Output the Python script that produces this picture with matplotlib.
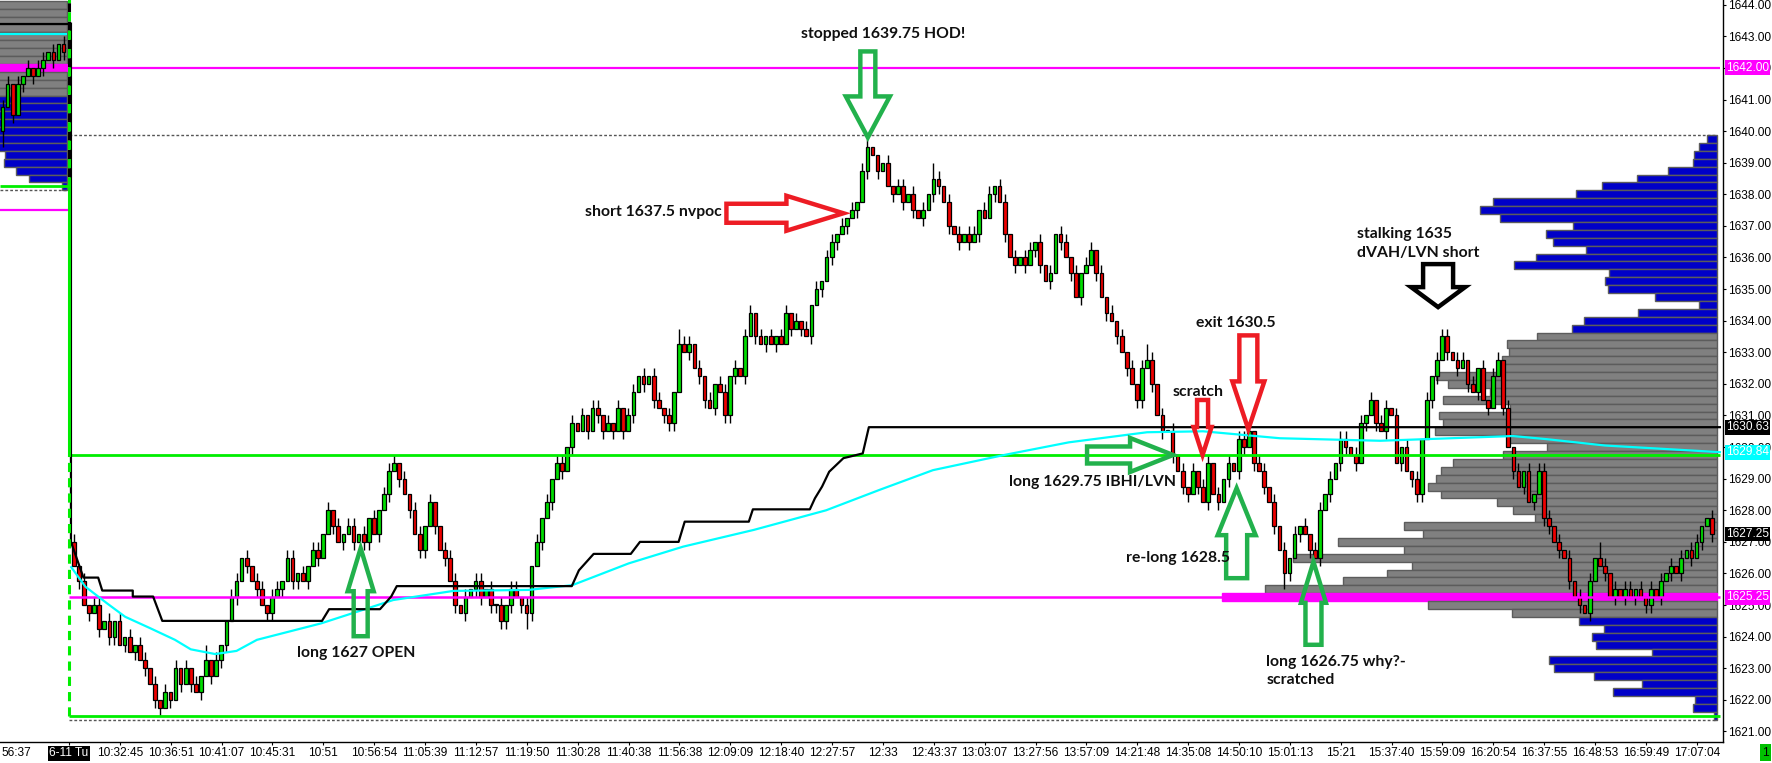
import numpy as np
import matplotlib.pyplot as plt
from matplotlib.patches import Polygon
from matplotlib.transforms import IdentityTransform, blended_transform_factory

plt.rcParams['font.family'] = ['Liberation Sans', 'DejaVu Sans']

UP_C = '#00dd00'
DN_C = '#ee0000'
MAGENTA = '#ff00ff'
CYAN = '#00ffff'
LIME = '#00ee00'
BLUE = '#0000c8'
GRAY = '#808080'
EDGE = '#5c5c5c'
ARROW_G = '#22b14c'
ARROW_R = '#ed1c24'

PX = 5.087          # pixels per bar
BARS_PER_LABEL = 10
LABEL_SIZE = 8.6

# ---------------- data ----------------
time_labels = ['6-11 Tu', '10:32:45', '10:36:51', '10:41:07', '10:45:31', '10:51',
               '10:56:54', '11:05:39', '11:12:57', '11:19:50', '11:30:28', '11:40:38',
               '11:56:38', '12:09:09', '12:18:40', '12:27:57', '12:33', '12:43:37',
               '13:03:07', '13:27:56', '13:57:09', '14:21:48', '14:35:08', '14:50:10',
               '15:01:13', '15:21', '15:37:40', '15:59:09', '16:20:54', '16:37:55',
               '16:48:53', '16:59:49', '17:07:04']
price_ticks = list(range(1621, 1645))

# previous session tail (left edge of chart)
prev_open = 1640.0
prev_close = [1640.75, 1641.5, 1640.5, 1641.5, 1641.75, 1642.0, 1641.75,
              1642.0, 1642.25, 1642.5, 1642.25, 1642.75, 1642.5]
prev_up = '1101010110101'
prev_dn = '2010101010101'

# 6-11 session, one close per bar
sess_open = 1627.0
sess_close = [
    1626.25, 1625.75, 1625.0, 1624.75, 1625.0, 1624.25, 1624.5, 1624.0, 1624.5, 1623.75,
    1624.0, 1623.5, 1623.75, 1623.25, 1623.0, 1622.5, 1622.0, 1621.75, 1622.25, 1622.0,
    1623.0, 1622.5, 1623.0, 1622.5, 1622.25, 1622.75, 1623.25, 1622.75, 1623.25, 1623.75,
    1624.5, 1625.25, 1625.75, 1626.5, 1626.25, 1625.75, 1625.5, 1625.0, 1624.75, 1625.25,
    1625.5, 1625.75, 1626.5, 1625.75, 1626.0, 1625.75, 1626.25, 1626.75, 1626.5, 1627.25,
    1628.0, 1627.5, 1627.0, 1627.25, 1627.5, 1627.0, 1627.25, 1627.0, 1627.75, 1627.25,
    1628.0, 1628.5, 1629.25, 1629.5, 1629.0, 1628.5, 1628.0, 1627.25, 1626.75, 1627.5,
    1628.25, 1627.5, 1626.75, 1626.5, 1625.75, 1625.0, 1624.75, 1625.25, 1625.5, 1625.75,
    1625.25, 1625.5, 1625.0, 1625.0, 1624.5, 1625.0, 1625.5, 1625.25, 1625.0, 1624.75,
    1626.25, 1627.0, 1627.75, 1628.25, 1629.0, 1629.5, 1629.25, 1630.0, 1630.75, 1630.5,
    1631.0, 1630.5, 1631.25, 1631.0, 1630.5, 1630.75, 1630.5, 1631.25, 1630.5, 1631.0,
    1631.75, 1632.25, 1632.0, 1632.25, 1631.5, 1631.25, 1631.0, 1630.75, 1631.75, 1633.25,
    1633.0, 1633.25, 1632.5, 1632.25, 1631.5, 1631.25, 1632.0, 1631.75, 1631.0, 1632.25,
    1632.5, 1632.25, 1633.5, 1634.25, 1633.5, 1633.25, 1633.5, 1633.25, 1633.5, 1633.25,
    1634.25, 1633.75, 1634.0, 1633.75, 1633.5, 1634.5, 1635.0, 1635.25, 1636.0, 1636.5,
    1636.75, 1637.0, 1637.25, 1637.5, 1637.75, 1638.75, 1639.5, 1639.25, 1638.75, 1639.0,
    1638.25, 1638.0, 1638.25, 1637.75, 1638.0, 1637.5, 1637.25, 1637.5, 1638.0, 1638.5,
    1638.25, 1637.75, 1637.0, 1636.75, 1636.5, 1636.75, 1636.5, 1636.75, 1637.5, 1637.25,
    1638.0, 1638.25, 1637.75, 1636.75, 1636.0, 1635.75, 1636.0, 1635.75, 1636.25, 1636.5,
    1635.75, 1635.25, 1635.5, 1636.75, 1636.5, 1636.0, 1635.5, 1634.75, 1635.5, 1635.75,
    1636.25, 1635.5, 1634.75, 1634.25, 1634.0, 1633.5, 1633.0, 1632.5, 1632.0, 1631.5,
    1632.5, 1632.75, 1632.0, 1631.0, 1630.5, 1630.5, 1629.75, 1629.25, 1628.75, 1628.5,
    1629.25, 1628.75, 1628.25, 1629.5, 1628.5, 1628.25, 1629.0, 1629.5, 1629.25, 1630.25,
    1630.0, 1630.5, 1629.5, 1629.25, 1628.75, 1628.25, 1627.5, 1626.75, 1626.0, 1626.5,
    1627.25, 1627.5, 1627.25, 1626.75, 1626.5, 1628.0, 1628.5, 1629.0, 1629.5, 1630.25,
    1630.0, 1629.75, 1629.5, 1630.75, 1631.0, 1631.5, 1630.75, 1630.5, 1631.25, 1631.0,
    1629.5, 1630.0, 1629.25, 1629.0, 1628.5, 1630.25, 1631.5, 1632.25, 1632.75, 1633.5,
    1633.0, 1632.75, 1632.5, 1632.75, 1632.0, 1631.75, 1632.5, 1631.5, 1631.25, 1632.25,
    1632.75, 1631.25, 1630.0, 1629.25, 1628.75, 1629.25, 1628.25, 1628.5, 1629.25, 1627.75,
    1627.5, 1627.0, 1626.75, 1626.5, 1625.75, 1625.25, 1625.0, 1624.75, 1625.75, 1626.5,
    1626.25, 1626.0, 1625.25, 1625.5, 1625.25, 1625.5, 1625.25, 1625.5, 1625.25, 1625.0,
    1625.5, 1625.25, 1625.75, 1626.0, 1626.25, 1626.0, 1626.5, 1626.75, 1626.5, 1627.0,
    1627.5, 1627.75, 1627.25,
]
# wick length beyond the body, in ticks
sess_up = ('1010110101' '0101101010' '1010102010' '0110101101' '1011010110'
           '1010110101' '0111010110' '1001110101' '1010101101' '0101011010'
           '1011010101' '1010110102' '1101010110' '1011010101' '1010101011'
           '0101011000' '1011010102' '1010101101' '1011010110' '1010110101'
           '1010101010' '1210101010' '1011010101' '1101101010' '1010110101'
           '1011010110' '1010101011' '1011010101' '1010101011' '1010101010'
           '2101011010' '1010101011001')
sess_dn = ('0101010110' '1010101101' '0101010101' '1010101011' '0101101010'
           '0101010110' '1010101011' '0101010101' '1011111012' '1010101010'
           '0101101010' '1010101110' '0101101011' '1010101010' '0101010101'
           '1010101010' '0101010101' '1010101010' '0101010101' '1010101010'
           '0101010101' '1010101011' '0101010101' '1010101021' '0101010101'
           '1010101010' '0101110110' '1010101010' '0101010101' '1010101010'
           '0101010101' '1010101010101')

# developing POC (black) and VWAP (cyan): bar position, price
vpoc_x = [13.45, 13.45, 15.9, 18.8, 19.6, 25.6, 25.6, 29.6, 31.4, 62.8, 64.2, 74.2, 76.4,
          77.5, 111.9, 113.3, 116.2, 123.5, 125.3, 132.9, 134.1, 146.7, 147.5, 158.7,
          159.7, 161.1, 162.5, 165.3, 167.1, 169.1, 170.3, 337.6]
vpoc_y = [1643.4, 1627.0, 1625.87, 1625.87, 1625.46, 1625.46, 1625.27, 1625.27, 1624.5,
          1624.5, 1624.87, 1624.87, 1625.27, 1625.6, 1625.6, 1626.1, 1626.62, 1626.62,
          1627.0, 1627.0, 1627.64, 1627.64, 1628.03, 1628.03, 1628.38, 1628.75, 1629.22,
          1629.65, 1629.72, 1629.8, 1630.63, 1630.63]
vwap_x = [13.5, 16.3, 20.5, 24.1, 29.0, 33.9, 37.0, 41.8, 46.0, 50.0, 62.6, 69.7, 76.8,
          88.7, 103.4, 112.0, 123.1, 133.8, 147.7, 161.9, 172.3, 182.9, 196.9, 209.6,
          225.0, 236.0, 251.1, 270.8, 296.9, 303.6, 315.0, 337.6]
vwap_y = [1626.2, 1625.58, 1625.06, 1624.63, 1624.27, 1623.9, 1623.6, 1623.45, 1623.55,
          1623.9, 1624.42, 1624.79, 1625.16, 1625.45, 1625.48, 1625.63, 1626.32, 1626.85,
          1627.38, 1628.0, 1628.64, 1629.27, 1629.75, 1630.15, 1630.47, 1630.5, 1630.28,
          1630.2, 1630.35, 1630.25, 1630.05, 1629.84]

# session volume profile, rows of 0.25 from the top price, width in bars
vp_top = 1639.75
vp_width = [1.85, 3.54, 4.52, 4.72, 9.67, 15.7, 22.6, 27.7, 43.9, 46.5, 42.6, 28.3, 33.5,
            32.1, 25.7, 35.6, 39.9, 21.1, 21.9, 21.3, 12.1, 3.4, 15.4, 26.0, 28.4,
            35.3, 41.2, 40.8, 42.3, 42.1, 55.2, 52.8, 44.6, 53.8, 40.6, 54.6, 53.9, 55.3,
            41.2, 33.4, 42.1, 51.9, 54.1, 55.2, 56.8, 54.1, 43.2, 40.0, 35.7, 61.4, 57.7,
            74.5, 61.4, 83.3, 59.8, 64.8, 73.4, 88.7, 97.2, 56.8, 40.2,
            27.0, 22.1, 24.6, 23.8, 12.7, 32.9, 31.9, 24.1, 14.6, 20.3, 4.3, 4.7, 0.5]
vp_vah, vp_val, vp_poc = 1633.5, 1624.75, 1625.25

# previous session profile
prev_vp_top = 1644.0
prev_vp_width = [28, 31, 35, 38, 40, 44, 47, 52, 49, 45, 41, 37,
                 34, 30, 27, 24, 21, 18, 15, 12.1, 12.3, 9.96, 7.35, 0.87]
prev_vah, prev_val, prev_poc = 1644.0, 1641.25, 1642.0

prev_levels = {'vpoc': 1643.4, 'vwap': 1643.08, 'green': 1638.27, 'low': 1638.14, 'mag': 1637.5}
ib_high, sess_low_line = 1629.75, 1621.5
hi_edge, lo_edge = 1639.875, 1621.375
prev_poc_line = 1642.0
last_price = 1627.25

# ---------------- figure ----------------
fig = plt.figure(figsize=(17.72, 7.63), dpi=100)
ax = fig.add_axes([0, 21 / 763, 1723 / 1772, 742 / 763])
x_right = 1723 / PX - 0.5
ax.set_xlim(-0.5, x_right)
ax.set_ylim(1620.667, 1644.149)

session_x = 69 / PX - 0.5
line_end = 1720 / PX - 0.5
vp_right = 1716.7 / PX - 0.5
prev_vp_right = 66.7 / PX - 0.5


def draw_profile(right, top, widths, vah, val, poc):
    prices = top - 0.25 * np.arange(len(widths))
    cols, edges = [], []
    for p in prices:
        if abs(p - poc) < 1e-6:
            cols.append(MAGENTA); edges.append(MAGENTA)
        elif val <= p <= vah:
            cols.append(GRAY); edges.append(EDGE)
        else:
            cols.append(BLUE); edges.append(EDGE)
    w = np.array(widths)
    ax.barh(prices, w, left=right - w, height=0.25, color=cols,
            edgecolor=edges, linewidth=1.0, zorder=1)


def draw_candles(x0, open0, closes, up, dn):
    c = np.array(closes)
    o = np.r_[open0, c[:-1]]
    xs = x0 + np.arange(len(c))
    hi = np.maximum(o, c) + 0.25 * np.array([int(v) for v in up[:len(c)]])
    lo = np.minimum(o, c) - 0.25 * np.array([int(v) for v in dn[:len(c)]])
    ax.vlines(xs, lo, hi, color='black', linewidth=1.0, zorder=3)
    cols = np.where(c > o, UP_C, np.where(c < o, DN_C, 'black'))
    h = np.where(c == o, 0.03, c - o)
    ax.bar(xs, h, bottom=o, width=0.72, color=cols, edgecolor='black',
           linewidth=0.9, zorder=3.1)


draw_profile(prev_vp_right, prev_vp_top, prev_vp_width, prev_vah, prev_val, prev_poc)
draw_profile(vp_right, vp_top, vp_width, vp_vah, vp_val, vp_poc)

# previous session levels
ax.hlines(prev_levels['vpoc'], -0.5, session_x, color='black', lw=1.6, zorder=4)
ax.hlines(prev_levels['vwap'], -0.5, prev_vp_right, color=CYAN, lw=1.6, zorder=4)
ax.hlines(prev_levels['green'], -0.5, session_x, color=LIME, lw=2, zorder=4)
ax.hlines(prev_levels['low'], -0.5, prev_vp_right, color='#555555', lw=1,
          linestyles=(0, (2, 1.5)), zorder=4)
ax.hlines(prev_levels['mag'], -0.5, session_x, color=MAGENTA, lw=1.6, zorder=4)

draw_candles(0, prev_open, prev_close, prev_up, prev_dn)
draw_candles(14, sess_open, sess_close, sess_up, sess_dn)

# session levels
ax.hlines([hi_edge, lo_edge], session_x, vp_right, color='#555555', lw=1,
          linestyles=(0, (2, 1.5)), zorder=4)
ax.hlines(prev_poc_line, session_x, line_end, color=MAGENTA, lw=1.6, zorder=4)
ax.hlines(vp_poc, session_x, line_end, color=MAGENTA, lw=1.8, zorder=4)
ax.hlines([ib_high, sess_low_line], session_x, line_end, color=LIME, lw=2, zorder=4)
ax.plot(vwap_x, vwap_y, color=CYAN, lw=1.6, zorder=4.2)
ax.plot(vpoc_x, vpoc_y, color='black', lw=1.6, zorder=4.3)

# session start line
ax.plot([session_x, session_x], [prev_levels['green'], 1644.2], color=LIME, lw=2.2,
        ls=(0, (3, 3)), gapcolor='black', zorder=4.5)
ax.plot([session_x, session_x], [ib_high, prev_levels['green']], color=LIME, lw=2.2, zorder=4.5)
ax.plot([session_x, session_x], [sess_low_line, ib_high], color=LIME, lw=2.2,
        ls=(0, (3, 2)), zorder=4.5)


def block_arrow(tip, direction, length, shaft, head, head_len, color):
    tx, ty = ax.transData.transform(tip)
    dx, dy = {'up': (0, 1), 'down': (0, -1), 'right': (1, 0)}[direction]
    nx, ny = -dy, dx
    local = [(0, 0), (-head_len, head / 2), (-head_len, shaft / 2), (-length, shaft / 2),
             (-length, -shaft / 2), (-head_len, -shaft / 2), (-head_len, -head / 2)]
    pts = [(tx + a * dx + b * nx, ty + a * dy + b * ny) for a, b in local]
    ax.add_patch(Polygon(pts, closed=True, fill=False, edgecolor=color, linewidth=3.2,
                         joinstyle='miter', transform=IdentityTransform(),
                         clip_on=False, zorder=6))


block_arrow((170.1, 1639.8), 'down', 86, 15, 44, 41, ARROW_G)
block_arrow((165.3, 1637.4), 'right', 117, 19, 35, 57, ARROW_R)
block_arrow((70.4, 1626.8), 'up', 88, 14, 26, 43, ARROW_G)
block_arrow((230.1, 1629.75), 'right', 86, 17, 34, 43, ARROW_G)
block_arrow((235.9, 1629.75), 'down', 55, 11, 18, 28, ARROW_R)
block_arrow((244.9, 1630.56), 'down', 94, 18, 32, 48, ARROW_R)
block_arrow((242.6, 1628.7), 'up', 90, 21, 38, 47, ARROW_G)
block_arrow((257.7, 1626.37), 'up', 83, 16, 25, 41, ARROW_G)
block_arrow((282.2, 1634.43), 'down', 43, 30, 54, 20, 'black')

note_kw = dict(fontfamily=['Lato', 'DejaVu Sans'], fontweight='bold', fontsize=11.3,
               color='#101010', va='center', zorder=7)
ax.text(173.2, 1643.08, 'stopped 1639.75 HOD!', ha='center', **note_kw)
ax.text(141.4, 1637.45, 'short 1637.5 nvpoc', ha='right', **note_kw)
ax.text(69.6, 1623.47, 'long 1627 OPEN', ha='center', **note_kw)
ax.text(197.8, 1628.9, 'long 1629.75 IBHI/LVN', ha='left', **note_kw)
ax.text(231.1, 1626.48, 're-long 1628.5', ha='center', **note_kw)
ax.text(235.0, 1631.75, 'scratch', ha='center', **note_kw)
ax.text(242.5, 1633.92, 'exit 1630.5', ha='center', **note_kw)
ax.text(266.3, 1636.74, 'stalking 1635', ha='left', **note_kw)
ax.text(266.3, 1636.13, 'dVAH/LVN short', ha='left', **note_kw)
ax.text(248.4, 1623.21, 'long 1626.75 why?-', ha='left', **note_kw)
ax.text(248.4, 1622.63, 'scratched', ha='left', **note_kw)

# axes styling
for side in ('left', 'top'):
    ax.spines[side].set_visible(False)
ax.spines['right'].set_linewidth(1)
ax.spines['bottom'].set_linewidth(1)
ax.yaxis.tick_right()
ax.set_yticks(price_ticks)
ax.set_yticklabels([f'{v:.2f}' for v in price_ticks])
ax.tick_params(axis='y', direction='out', length=2.5, pad=1, labelsize=LABEL_SIZE)
tick_pos = session_x + BARS_PER_LABEL * np.arange(len(time_labels))
ax.set_xticks(tick_pos)
ax.set_xticklabels(time_labels)
ax.tick_params(axis='x', direction='out', length=2.5, pad=1.4, labelsize=LABEL_SIZE)
first = ax.get_xticklabels()[0]
first.set_color('white')
first.set_bbox(dict(facecolor='black', edgecolor='none', pad=1.2))

fig.text(1 / 1772, 1 - 753 / 763, '56:37', ha='left', va='center', fontsize=LABEL_SIZE)

# price markers on the right axis
tr = blended_transform_factory(ax.transAxes, ax.transData)
markers = [(prev_poc_line, MAGENTA, '1642.00'), (vpoc_y[-1], 'black', '1630.63'),
           (vwap_y[-1], CYAN, '1629.84'), (last_price, 'black', '1627.25'),
           (vp_poc, MAGENTA, '1625.25')]
for yv, col, lab in markers:
    ax.text(1726 / 1723, yv, lab, transform=tr, ha='left', va='center',
            fontsize=LABEL_SIZE, color='white', clip_on=False, zorder=8,
            bbox=dict(boxstyle='square,pad=0.12', facecolor=col, edgecolor='none'))

fig.text(1765.5 / 1772, 1 - 752.5 / 763, '1', ha='center', va='center', fontsize=LABEL_SIZE,
         bbox=dict(boxstyle='square,pad=0.2', facecolor='#00c000', edgecolor='none'))

fig.savefig('out.png', dpi=100)
